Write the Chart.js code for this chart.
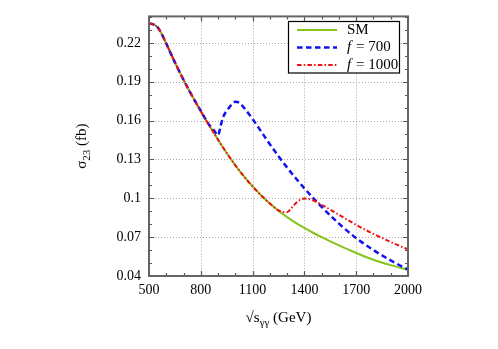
<!DOCTYPE html>
<html><head><meta charset="utf-8">
<script src="https://cdn.jsdelivr.net/npm/chart.js@4"></script>
<style>html,body{margin:0;padding:0;background:#fff;}canvas{display:block;}</style>
</head><body>
<canvas id="c" width="498" height="349"></canvas>
<script>
// ---- data ----
const xTicks = [500, 800, 1100, 1400, 1700, 2000];
const xMinorTicks = [600, 700, 900, 1000, 1200, 1300, 1500, 1600, 1800, 1900];
const yTicks = [0.04, 0.07, 0.10, 0.13, 0.16, 0.19, 0.22];
const yMinorTicks = [0.05, 0.06, 0.08, 0.09, 0.11, 0.12, 0.14, 0.15, 0.17, 0.18, 0.20, 0.21, 0.23, 0.24];

const smX = [500, 525, 550, 575, 600, 650, 700, 750, 800, 850, 900, 950, 1000, 1050, 1100, 1150, 1200, 1250, 1300, 1350, 1400, 1450, 1500, 1600, 1700, 1800, 1900, 2000];
const smY = [0.2350, 0.2343, 0.2320, 0.2265, 0.2195, 0.2050, 0.1915, 0.1790, 0.1673, 0.1560, 0.1453, 0.1350, 0.1255, 0.1169, 0.1092, 0.1022, 0.0959, 0.0904, 0.0855, 0.0811, 0.0771, 0.0734, 0.0700, 0.0636, 0.0578, 0.0526, 0.0484, 0.0448];

const f700X = [500, 525, 550, 575, 600, 650, 700, 750, 800, 850, 875, 900, 915, 930, 960, 1000, 1025, 1050, 1100, 1150, 1200, 1250, 1300, 1350, 1400, 1450, 1500, 1600, 1700, 1800, 1900, 2000];
const f700Y = [0.2350, 0.2343, 0.2320, 0.2265, 0.2195, 0.2050, 0.1915, 0.1790, 0.1675, 0.1565, 0.1528, 0.1487, 0.1560, 0.1628, 0.1693, 0.1745, 0.1737, 0.1700, 0.1612, 0.1515, 0.1418, 0.1325, 0.1237, 0.1155, 0.1077, 0.1003, 0.0933, 0.0805, 0.0692, 0.0600, 0.0520, 0.0450];

const f1000X = [500, 525, 550, 575, 600, 650, 700, 750, 800, 850, 900, 950, 1000, 1050, 1100, 1150, 1200, 1250, 1275, 1300, 1325, 1350, 1375, 1400, 1425, 1450, 1500, 1550, 1600, 1700, 1800, 1900, 2000];
const f1000Y = [0.2350, 0.2343, 0.2320, 0.2265, 0.2195, 0.2050, 0.1915, 0.1790, 0.1673, 0.1560, 0.1453, 0.1350, 0.1255, 0.1169, 0.1092, 0.1022, 0.0960, 0.0906, 0.0894, 0.0893, 0.0925, 0.0962, 0.0988, 0.0998, 0.0995, 0.0985, 0.0950, 0.0912, 0.0873, 0.0795, 0.0725, 0.0663, 0.0605];

const seriesLabels = ['SM', 'f = 700', 'f = 1000'];
const xTitle = ['√s', 'γγ', ' (GeV)'];
const yTitle = ['σ', '23', ' (fb)'];

const SERIF = '"Liberation Serif", "DejaVu Serif", serif';
const GREEN = '#84c41c', BLUE = '#1010f0', RED = '#f01010';
const DASH_BLUE = [5.5, 3.5], DASH_RED = [4.5, 2.2, 1.5, 2.2];

const pts = (xs, ys) => xs.map((x, i) => ({x: x, y: ys[i]}));

const decor = {
  id: 'decor',
  beforeDatasetsDraw(chart) {
    const {ctx, chartArea: a, scales: {x, y}} = chart;
    ctx.save();
    ctx.strokeStyle = '#a8a8a8';
    ctx.lineWidth = 1;
    ctx.setLineDash([1, 2]);
    xTicks.forEach(v => {
      if (v <= x.min || v >= x.max) return;
      const px = Math.round(x.getPixelForValue(v)) + 0.5;
      ctx.beginPath(); ctx.moveTo(px, a.top); ctx.lineTo(px, a.bottom); ctx.stroke();
    });
    yTicks.forEach(v => {
      if (v <= y.min || v >= y.max) return;
      const py = Math.round(y.getPixelForValue(v)) + 0.5;
      ctx.beginPath(); ctx.moveTo(a.left, py); ctx.lineTo(a.right, py); ctx.stroke();
    });
    ctx.restore();
  },
  afterDatasetsDraw(chart) {
    const {ctx, chartArea: a, scales: {x, y}} = chart;
    ctx.save();
    ctx.strokeStyle = '#555';
    ctx.lineWidth = 1.2;
    const tx = (v, len) => {
      const px = Math.round(x.getPixelForValue(v)) + 0.5;
      ctx.beginPath();
      ctx.moveTo(px, a.bottom); ctx.lineTo(px, a.bottom - len);
      ctx.moveTo(px, a.top); ctx.lineTo(px, a.top + len);
      ctx.stroke();
    };
    const ty = (v, len) => {
      const py = Math.round(y.getPixelForValue(v)) + 0.5;
      ctx.beginPath();
      ctx.moveTo(a.left, py); ctx.lineTo(a.left + len, py);
      ctx.moveTo(a.right, py); ctx.lineTo(a.right - len, py);
      ctx.stroke();
    };
    xTicks.forEach(v => tx(v, 5));
    xMinorTicks.forEach(v => tx(v, 3));
    yTicks.forEach(v => ty(v, 5));
    yMinorTicks.forEach(v => ty(v, 3));
    ctx.strokeStyle = '#666';
    ctx.lineWidth = 2;
    ctx.strokeRect(a.left, a.top, a.right - a.left, a.bottom - a.top);

    // legend
    const lx = 288.5, ly = 21.5, lw = 111, lh = 51.5;
    ctx.fillStyle = '#fff';
    ctx.fillRect(lx, ly, lw, lh);
    ctx.strokeStyle = '#000';
    ctx.lineWidth = 1.2;
    ctx.strokeRect(lx, ly, lw, lh);
    const rows = [
      {c: GREEN, d: [], w: 2},
      {c: BLUE, d: DASH_BLUE, w: 2.5},
      {c: RED, d: DASH_RED, w: 2}
    ];
    rows.forEach((r, i) => {
      const ry = 30 + i * 17.5;
      ctx.strokeStyle = r.c; ctx.lineWidth = r.w; ctx.setLineDash(r.d);
      ctx.beginPath(); ctx.moveTo(297, ry); ctx.lineTo(337, ry); ctx.stroke();
      ctx.setLineDash([]);
      ctx.fillStyle = '#000';
      ctx.textBaseline = 'middle';
      ctx.textAlign = 'left';
      const lab = seriesLabels[i];
      if (lab.startsWith('f ')) {
        ctx.font = 'italic 15px ' + SERIF;
        ctx.fillText('f', 347, ry);
        const w = ctx.measureText('f').width;
        ctx.font = '15px ' + SERIF;
        ctx.fillText(lab.slice(1), 347 + w + 1, ry);
      } else {
        ctx.font = '15px ' + SERIF;
        ctx.fillText(lab, 347, ry);
      }
    });

    const drawSub = (parts, cx, cy) => {
      ctx.textBaseline = 'alphabetic';
      ctx.textAlign = 'left';
      ctx.font = '15px ' + SERIF; const w0 = ctx.measureText(parts[0]).width;
      ctx.font = '11px ' + SERIF; const w1 = ctx.measureText(parts[1]).width;
      ctx.font = '15px ' + SERIF; const w2 = ctx.measureText(parts[2]).width;
      let sx = cx - (w0 + w1 + w2) / 2;
      const base = cy + 5;
      ctx.fillStyle = '#000';
      ctx.font = '15px ' + SERIF; ctx.fillText(parts[0], sx, base); sx += w0;
      ctx.font = '11px ' + SERIF; ctx.fillText(parts[1], sx, base + 4); sx += w1;
      ctx.font = '15px ' + SERIF; ctx.fillText(parts[2], sx, base);
    };
    drawSub(xTitle, (a.left + a.right) / 2, 317);
    ctx.save();
    ctx.translate(81, (a.top + a.bottom) / 2);
    ctx.rotate(-Math.PI / 2);
    drawSub(yTitle, 0, 0);
    ctx.restore();
    ctx.restore();
  }
};

new Chart(document.getElementById('c'), {
  type: 'line',
  data: {
    datasets: [
      {label: seriesLabels[0], data: pts(smX, smY), borderColor: GREEN, borderWidth: 2, order: 3},
      {label: seriesLabels[1], data: pts(f700X, f700Y), borderColor: BLUE, borderWidth: 2.5, borderDash: DASH_BLUE, order: 2},
      {label: seriesLabels[2], data: pts(f1000X, f1000Y), borderColor: RED, borderWidth: 2, borderDash: DASH_RED, order: 1}
    ]
  },
  options: {
    responsive: false,
    devicePixelRatio: 1,
    animation: false,
    elements: {point: {radius: 0}, line: {cubicInterpolationMode: 'monotone', fill: false}},
    layout: {padding: {left: 0, right: 90, top: 16, bottom: 0}},
    plugins: {legend: {display: false}, tooltip: {enabled: false}, title: {display: false}},
    scales: {
      x: {
        type: 'linear', min: 500, max: 2000,
        afterBuildTicks: s => { s.ticks = xTicks.map(v => ({value: v})); },
        afterFit: s => { s.height = 73; },
        grid: {display: false, drawTicks: false},
        border: {display: false},
        ticks: {font: {family: SERIF, size: 14}, color: '#000', padding: 6, maxRotation: 0, autoSkip: false,
          callback: v => String(v)}
      },
      y: {
        type: 'linear', min: 0.04, max: 0.2405,
        afterBuildTicks: s => { s.ticks = yTicks.map(v => ({value: v})); },
        afterFit: s => { s.width = 149; },
        grid: {display: false, drawTicks: false},
        border: {display: false},
        ticks: {font: {family: SERIF, size: 14}, color: '#000', padding: 8, autoSkip: false,
          callback: v => String(+(+v).toFixed(2))}
      }
    }
  },
  plugins: [decor]
});
</script>
</body></html>
